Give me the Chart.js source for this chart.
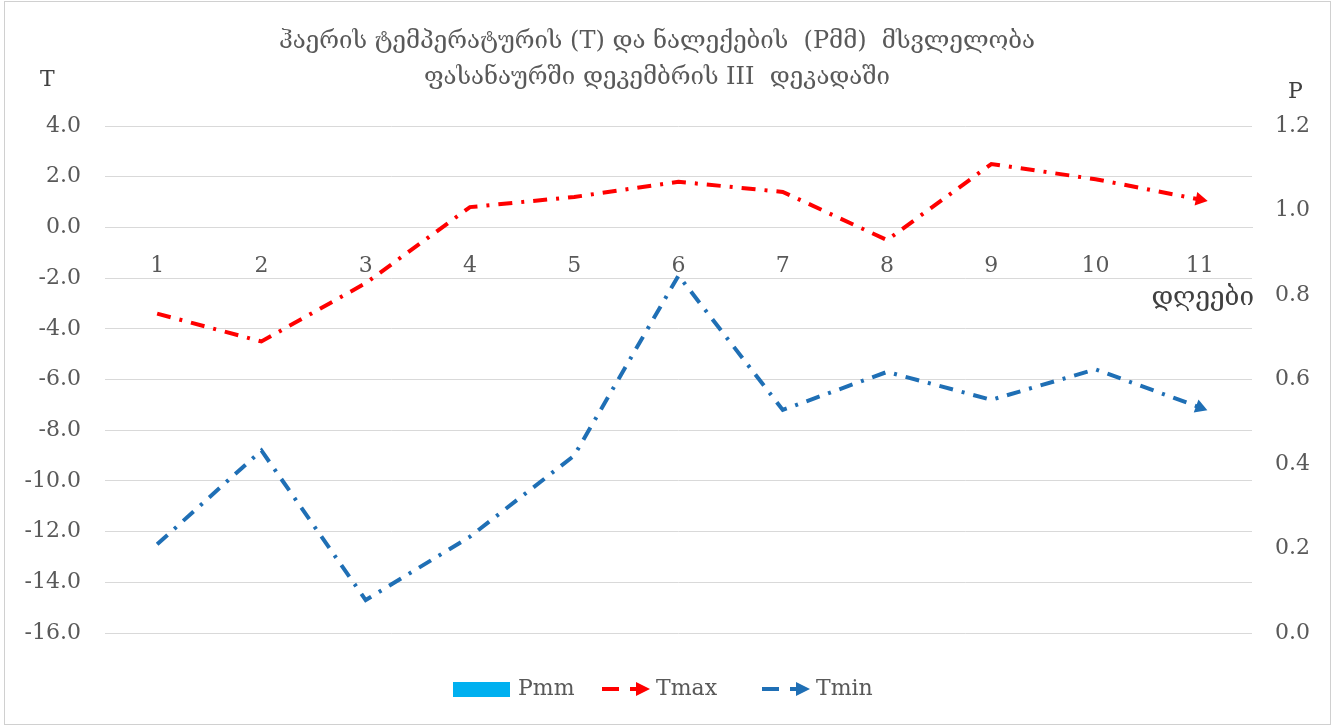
<!DOCTYPE html>
<html>
<head>
<meta charset="utf-8">
<script src="https://cdn.jsdelivr.net/npm/chart.js@4"></script>
<style>
  html, body { margin: 0; padding: 0; background: #fff; }
  #wrap { width: 1332px; height: 726px; }
</style>
</head>
<body>
<div id="wrap"><canvas id="chart" width="1332" height="726"></canvas></div>
<script>
const days = ["1", "2", "3", "4", "5", "6", "7", "8", "9", "10", "11"];
const pmm = [0, 0, 0, 0, 0, 0, 0, 0, 0, 0, 0];
const tmax = [-3.4, -4.5, -2.2, 0.8, 1.2, 1.8, 1.4, -0.5, 2.5, 1.9, 1.1];
const tmin = [-12.5, -8.8, -14.7, -12.2, -9.0, -1.9, -7.2, -5.7, -6.8, -5.6, -7.1];
const tTicks = [-16, -14, -12, -10, -8, -6, -4, -2, 0, 2, 4];
const pTicks = [0, 0.2, 0.4, 0.6, 0.8, 1.0, 1.2];

const titleLines = [
  "ჰაერის ტემპერატურის (T) და ნალექების  (Pმმ)  მსვლელობა",
  "ფასანაურში დეკემბრის III  დეკადაში",
];

const FONT = "'DejaVu Serif', 'Liberation Serif', serif";
const GREY = "#595959";
const RED = "#FF0000";
const BLUE = "#1F6FB5";
const CYAN = "#00B0F0";

// rotate the end triangle along the last segment
const arrowRotation = (ctx) => {
  const chart = ctx.chart;
  const data = chart.data.datasets[ctx.datasetIndex].data;
  const i = data.length - 1;
  const x = chart.scales.x, y = chart.scales.y;
  const dx = x.getPixelForValue(i) - x.getPixelForValue(i - 1);
  const dy = y.getPixelForValue(data[i]) - y.getPixelForValue(data[i - 1]);
  return 90 + (Math.atan2(dy, dx) * 180) / Math.PI;
};
const lastOnly = (r) => (ctx) =>
  ctx.dataIndex === ctx.dataset.data.length - 1 ? r : 0;

const decorations = {
  id: "decorations",
  beforeDraw(chart) {
    const c = chart.ctx;
    c.save();
    c.fillStyle = "#fff";
    c.fillRect(0, 0, chart.width, chart.height);
    c.strokeStyle = "#D0D0D0";
    c.lineWidth = 1;
    c.strokeRect(4.5, 1.5, chart.width - 6, chart.height - 3);
    c.restore();
  },
  afterDraw(chart) {
    const c = chart.ctx;
    c.save();
    c.fillStyle = GREY;
    c.textBaseline = "middle";
    c.font = `24px ${FONT}`;
    c.textAlign = "center";
    c.fillText(titleLines[0], 657, 42);
    c.fillText(titleLines[1], 657, 78);

    c.fillStyle = "#404040";
    c.font = `22px ${FONT}`;
    c.textAlign = "left";
    c.fillText("T", 40, 80);
    c.fillText("P", 1288, 92);
    c.textAlign = "right";
    c.font = `26px ${FONT}`;
    c.fillText("დღეები", 1254, 298);

    // legend
    c.font = `22px ${FONT}`;
    const ly = 689;
    c.fillStyle = CYAN;
    c.fillRect(453, ly - 7, 57, 15);
    c.fillStyle = GREY;
    c.textAlign = "left";
    c.fillText("Pmm", 518, ly);

    const lineItem = (x, color, label) => {
      c.strokeStyle = color;
      c.lineWidth = 4;
      c.beginPath();
      c.moveTo(x, ly);
      c.lineTo(x + 17, ly);
      c.stroke();
      c.fillStyle = color;
      c.fillRect(x + 28, ly - 2, 8, 4);
      c.beginPath();
      c.moveTo(x + 34, ly - 7);
      c.lineTo(x + 48, ly);
      c.lineTo(x + 34, ly + 7);
      c.closePath();
      c.fill();
      c.fillStyle = GREY;
      c.fillText(label, x + 54, ly);
    };
    lineItem(602, RED, "Tmax");
    lineItem(762, BLUE, "Tmin");
    c.restore();
  },
};

new Chart(document.getElementById("chart"), {
  data: {
    labels: days,
    datasets: [
      {
        type: "bar",
        label: "Pmm",
        data: pmm,
        backgroundColor: CYAN,
        yAxisID: "y2",
        order: 3,
      },
      {
        type: "line",
        label: "Tmax",
        data: tmax,
        borderColor: RED,
        backgroundColor: RED,
        borderWidth: 4,
        borderDash: [14, 9, 3, 9],
        tension: 0,
        pointStyle: "triangle",
        pointRadius: lastOnly(8),
        pointHoverRadius: lastOnly(8),
        pointBorderWidth: 0,
        pointRotation: arrowRotation,
        yAxisID: "y",
        order: 1,
      },
      {
        type: "line",
        label: "Tmin",
        data: tmin,
        borderColor: BLUE,
        backgroundColor: BLUE,
        borderWidth: 4,
        borderDash: [14, 9, 3, 9],
        tension: 0,
        pointStyle: "triangle",
        pointRadius: lastOnly(8),
        pointHoverRadius: lastOnly(8),
        pointBorderWidth: 0,
        pointRotation: arrowRotation,
        yAxisID: "y",
        order: 2,
      },
    ],
  },
  options: {
    responsive: false,
    animation: false,
    events: [],
    layout: { padding: { top: 126, bottom: 93, left: 0, right: 0 } },
    plugins: {
      legend: { display: false },
      title: { display: false },
      tooltip: { enabled: false },
    },
    scales: {
      x: {
        position: { y: 0 },
        offset: true,
        grid: { display: false, drawTicks: false },
        border: { display: true, color: "#D9D9D9" },
        ticks: {
          color: GREY,
          font: { family: FONT, size: 22 },
          padding: 26,
          maxRotation: 0,
        },
      },
      y: {
        position: "left",
        min: tTicks[0],
        max: tTicks[tTicks.length - 1],
        afterBuildTicks: (s) => { s.ticks = tTicks.map((v) => ({ value: v })); },
        afterFit: (s) => { s.width = 105; },
        grid: { color: "#D9D9D9", drawTicks: false },
        border: { display: false },
        ticks: {
          color: GREY,
          font: { family: FONT, size: 22 },
          padding: 24,
          callback: (v) => Number(v).toFixed(1),
        },
      },
      y2: {
        position: "right",
        min: pTicks[0],
        max: pTicks[pTicks.length - 1],
        afterBuildTicks: (s) => { s.ticks = pTicks.map((v) => ({ value: v })); },
        afterFit: (s) => { s.width = 80; },
        grid: { display: false, drawTicks: false },
        border: { display: false },
        ticks: {
          color: GREY,
          font: { family: FONT, size: 22 },
          padding: 23,
          callback: (v) => Number(v).toFixed(1),
        },
      },
    },
  },
  plugins: [decorations],
});
</script>
</body>
</html>
